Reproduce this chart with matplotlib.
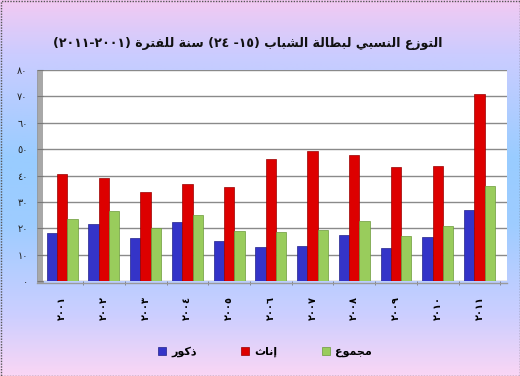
import numpy as np
import matplotlib
matplotlib.use("Agg")
import matplotlib.pyplot as plt
from matplotlib.colors import LinearSegmentedColormap
from matplotlib.patches import Rectangle, Patch

# ---------------- data ----------------
title_text = "التوزع النسبي لبطالة الشباب (١٥- ٢٤) سنة للفترة (٢٠٠١-٢٠١١)"
years = ["٢٠٠١", "٢٠٠٢", "٢٠٠٣", "٢٠٠٤", "٢٠٠٥", "٢٠٠٦",
         "٢٠٠٧", "٢٠٠٨", "٢٠٠٩", "٢٠١٠", "٢٠١١"]
series_names = ["ذكور", "إناث", "مجموع"]
males = [18.1, 21.5, 16.2, 22.2, 15.3, 12.9, 13.4, 17.4, 12.4, 16.7, 26.8]
females = [40.5, 38.9, 33.7, 36.8, 35.8, 46.1, 49.3, 47.6, 43.1, 43.5, 70.9]
total = [23.6, 26.4, 20.1, 24.9, 18.8, 18.5, 19.3, 22.6, 16.9, 20.7, 35.9]
y_ticks = [0, 10, 20, 30, 40, 50, 60, 70, 80]
y_tick_labels = ["٠", "١٠", "٢٠", "٣٠", "٤٠", "٥٠", "٦٠", "٧٠", "٨٠"]

# ------------- Arabic shaping (matplotlib has no complex text layout) -------------
FORMS = {
    'ا': ('\uFE8D', '\uFE8E', None, None),
    'إ': ('\uFE87', '\uFE88', None, None),
    'ب': ('\uFE8F', '\uFE90', '\uFE91', '\uFE92'),
    'ة': ('\uFE93', '\uFE94', None, None),
    'ت': ('\uFE95', '\uFE96', '\uFE97', '\uFE98'),
    'ث': ('\uFE99', '\uFE9A', '\uFE9B', '\uFE9C'),
    'ج': ('\uFE9D', '\uFE9E', '\uFE9F', '\uFEA0'),
    'ذ': ('\uFEAB', '\uFEAC', None, None),
    'ر': ('\uFEAD', '\uFEAE', None, None),
    'ز': ('\uFEAF', '\uFEB0', None, None),
    'س': ('\uFEB1', '\uFEB2', '\uFEB3', '\uFEB4'),
    'ش': ('\uFEB5', '\uFEB6', '\uFEB7', '\uFEB8'),
    'ط': ('\uFEC1', '\uFEC2', '\uFEC3', '\uFEC4'),
    'ع': ('\uFEC9', '\uFECA', '\uFECB', '\uFECC'),
    'ف': ('\uFED1', '\uFED2', '\uFED3', '\uFED4'),
    'ك': ('\uFED9', '\uFEDA', '\uFEDB', '\uFEDC'),
    'ل': ('\uFEDD', '\uFEDE', '\uFEDF', '\uFEE0'),
    'م': ('\uFEE1', '\uFEE2', '\uFEE3', '\uFEE4'),
    'ن': ('\uFEE5', '\uFEE6', '\uFEE7', '\uFEE8'),
    'و': ('\uFEED', '\uFEEE', None, None),
    'ي': ('\uFEF1', '\uFEF2', '\uFEF3', '\uFEF4'),
}


def shape(s):
    out = []
    for i, c in enumerate(s):
        if c not in FORMS:
            out.append(c)
            continue
        iso, fin, ini, med = FORMS[c]
        prev = s[i - 1] if i > 0 else None
        nxt = s[i + 1] if i + 1 < len(s) else None
        jp = prev in FORMS and FORMS[prev][2] is not None
        jn = ini is not None and nxt in FORMS
        if jp and jn:
            out.append(med)
        elif jp:
            out.append(fin)
        elif jn:
            out.append(ini)
        else:
            out.append(iso)
    return "".join(out)


def visual(s):
    shaped = shape(s)
    runs = []
    cur, cur_digit = "", None
    for c in shaped:
        d = c.isdigit()
        if cur and d != cur_digit:
            runs.append((cur, cur_digit))
            cur = ""
        cur += c
        cur_digit = d
    if cur:
        runs.append((cur, cur_digit))
    mirror = {"(": ")", ")": "("}
    res = []
    for txt, dig in reversed(runs):
        if dig:
            res.append(txt)
        else:
            res.append("".join(mirror.get(c, c) for c in reversed(txt)))
    return "".join(res)


plt.rcParams['font.family'] = ['DejaVu Sans']

W, H = 520, 376
fig = plt.figure(figsize=(W / 100, H / 100), dpi=100)

# background gradient
bg = fig.add_axes([0, 0, 1, 1], zorder=-10)
cmap = LinearSegmentedColormap.from_list("bg", [
    (0.00, (0.95, 0.79, 0.95)),
    (0.14, (0.80, 0.80, 1.00)),
    (0.42, (0.60, 0.80, 1.00)),
    (0.60, (0.62, 0.80, 1.00)),
    (0.84, (0.80, 0.81, 1.00)),
    (1.00, (0.98, 0.84, 0.96)),
])
grad = np.linspace(0, 1, 256).reshape(-1, 1)
bg.imshow(grad, aspect="auto", cmap=cmap, extent=[0, 1, 0, 1], origin="upper")
bg.set_xlim(0, 1)
bg.set_ylim(0, 1)
bg.axis("off")

# 3D side wall (grey strip left of plot area)
fig.patches.append(Rectangle((37 / W, 1 - 282 / H), 6 / W, 212 / H,
                             transform=fig.transFigure, facecolor="#a8a8a8",
                             edgecolor="#909090", lw=0.5, zorder=1))
# floor line
fig.lines.append(plt.Line2D([37 / W, 507 / W], [1 - 282.5 / H, 1 - 282.5 / H],
                            transform=fig.transFigure, color="#9a9a9a", lw=1.0))

left, right = 43 / W, 507 / W
bottom, top = 1 - 281 / H, 1 - 70 / H
ax = fig.add_axes([left, bottom, right - left, top - bottom], zorder=2)
ax.set_facecolor("white")

x = np.arange(len(years))
bw = 0.247
colors = ["#3434c8", "#dd0000", "#99cc5c"]
edges = ["#22228a", "#990000", "#6b9a3a"]
for i, vals in enumerate([males, females, total]):
    ax.bar(x + (i - 1) * bw, vals, width=bw, color=colors[i],
           edgecolor=edges[i], linewidth=0.5, zorder=3)

ax.set_xlim(-0.46, 10.66)
ax.set_ylim(0, 80)
ax.set_yticks(y_ticks)
ax.set_yticklabels(y_tick_labels, fontsize=7, color="#222222")
ax.yaxis.grid(True, color="#8a8a8a", linewidth=1.0, zorder=0)
ax.set_axisbelow(True)
ax.tick_params(axis="y", length=4, color="#777777", pad=7)

ax.set_xticks(x)
ax.set_xticklabels(years, rotation=90, fontsize=7, fontweight="bold")
ax.set_xticks(np.arange(len(years)) + 0.5, minor=True)
ax.tick_params(axis="x", which="major", length=0, pad=11)
ax.tick_params(axis="x", which="minor", length=3, color="#777777")
for s in ax.spines.values():
    s.set_visible(False)

# title
fig.text(248 / W, 1 - 43 / H, visual(title_text), ha="center", va="center",
         fontsize=9, fontweight="bold", color="#111111")

# legend
handles = [Patch(facecolor=colors[i], edgecolor=edges[i], linewidth=0.5)
           for i in range(3)]
fig.legend(handles, [visual(n) for n in series_names], ncol=3,
           loc="center", bbox_to_anchor=(265 / W, 1 - 352 / H),
           frameon=False, prop={"weight": "bold", "size": 8},
           handlelength=0.7, handleheight=0.7, handletextpad=0.5,
           columnspacing=4.0)

# dotted figure border
fig.patches.append(Rectangle((0.5 / W, 0.5 / H), 1 - 1 / W, 1 - 1 / H,
                             transform=fig.transFigure, fill=False,
                             edgecolor="#555555", lw=1.0, linestyle=(0, (1, 1)),
                             zorder=20))

fig.savefig("out.png", dpi=100)
